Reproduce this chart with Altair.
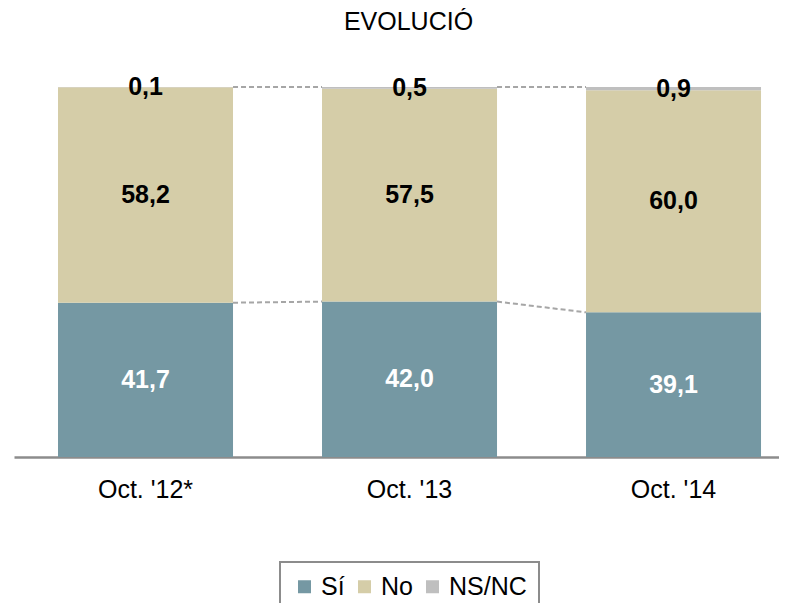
import altair as alt
import pandas as pd

categories = ["Oct. '12*", "Oct. '13", "Oct. '14"]
series = ["Sí", "No", "NS/NC"]
si = [41.7, 42.0, 39.1]
no = [58.2, 57.5, 60.0]
nsnc = [0.1, 0.5, 0.9]
colors = ["#7598A3", "#D5CDA8", "#BFBFBF"]

FONT = "Liberation Sans"

rows = []
for i, c in enumerate(categories):
    for k, (s, vals) in enumerate(zip(series, [si, no, nsnc])):
        rows.append({"cat": c, "serie": s, "order": k, "value": vals[i]})
df = pd.DataFrame(rows)

conn = []
for i in range(len(categories) - 1):
    conn.append({"from": categories[i], "to": categories[i + 1],
                 "y1": si[i], "y2": si[i + 1]})
    conn.append({"from": categories[i], "to": categories[i + 1],
                 "y1": si[i] + no[i] + nsnc[i], "y2": si[i + 1] + no[i + 1] + nsnc[i + 1]})
conn_df = pd.DataFrame(conn)

xscale = alt.Scale(domain=categories, paddingInner=0.3371, paddingOuter=0.1174, align=0.71)
yscale = alt.Scale(domain=[0, 100], nice=False, clamp=True)

bars = alt.Chart(df).mark_bar().encode(
    x=alt.X("cat:N", scale=xscale, sort=categories,
            axis=alt.Axis(title=None, labelAngle=0, ticks=False, domainColor="#8C8C8C",
                          domainWidth=2.5, labelFontSize=25, labelFont=FONT,
                          labelColor="#000000", labelPadding=20)),
    y=alt.Y("value:Q", stack="zero", scale=yscale, axis=None),
    color=alt.Color("serie:N", scale=alt.Scale(domain=series, range=colors),
                    legend=alt.Legend(title=None, orient="none", direction="horizontal",
                                      legendX=266, legendY=475, symbolType="square",
                                      symbolSize=169, symbolStrokeWidth=0,
                                      labelFontSize=25, labelFont=FONT, labelColor="#000000",
                                      labelOffset=4, columnPadding=7, padding=12)),
    order=alt.Order("order:Q"),
)

labels = alt.Chart(df).transform_stack(
    stack="value", groupby=["cat"], as_=["v0", "v1"], sort=[alt.SortField("order")]
).transform_calculate(
    mid="(datum.v0 + datum.v1) / 2",
    label="replace(format(datum.value, '.1f'), '.', ',')",
    tcolor="datum.serie == 'Sí' ? '#FFFFFF' : '#000000'",
).mark_text(font=FONT, fontSize=25, fontWeight="bold", baseline="middle").encode(
    x=alt.X("cat:N", scale=xscale, sort=categories),
    y=alt.Y("mid:Q", scale=yscale),
    text="label:N",
    color=alt.Color("tcolor:N", scale=None, legend=None),
)

connectors = alt.Chart(conn_df).mark_rule(color="#A6A6A6", strokeWidth=2, strokeDash=[5, 3]).encode(
    x=alt.X("from:N", scale=xscale, sort=categories, bandPosition=1),
    x2=alt.X2("to:N", bandPosition=0),
    y=alt.Y("y1:Q", scale=yscale),
    y2="y2:Q",
)

chart = alt.layer(bars, connectors, labels).properties(
    width=765, height=370,
    title=alt.TitleParams("EVOLUCIÓ", fontSize=25, fontWeight="normal", font=FONT,
                          color="#000000", offset=40, dx=12),
    autosize=alt.AutoSizeParams(type="none"),
    padding={"left": 6, "top": 79, "right": 0, "bottom": 146},
).configure_view(stroke=None).configure_legend(strokeColor="#8C8C8C", strokeWidth=2)

chart.save("out.html", embed_options={"renderer": "svg", "actions": False})
